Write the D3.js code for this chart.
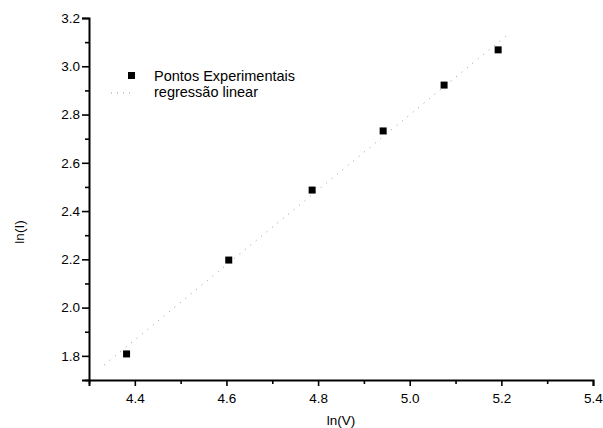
<!DOCTYPE html>
<html>
<head>
<meta charset="utf-8">
<script src="https://cdn.jsdelivr.net/npm/d3@7"></script>
<style>
  body { margin: 0; background: #fff; }
  text { font-family: "Liberation Sans", Arial, sans-serif; fill: #000; }
</style>
</head>
<body>
<svg id="chart" width="603" height="428"></svg>
<script>
// data
const lnV = [4.382, 4.605, 4.787, 4.942, 5.075, 5.193];
const lnI = [1.808, 2.197, 2.487, 2.732, 2.922, 3.068];
const fitX = [4.333, 5.213];
const fitY = [1.762, 3.130];
const xTicks = [4.4, 4.6, 4.8, 5.0, 5.2, 5.4];
const yTicks = [1.8, 2.0, 2.2, 2.4, 2.6, 2.8, 3.0, 3.2];
const legendLabels = ['Pontos Experimentais', 'regressão linear'];

const svg = d3.select('#chart');
const mLeft = 89, mRight = 593, mTop = 18, mBottom = 380;

const x = d3.scaleLinear().domain([4.3, 5.4]).range([mLeft, mRight]);
const y = d3.scaleLinear().domain([1.7, 3.2]).range([mBottom, mTop]);

// minor ticks
const xMinor = d3.range(4.3, 5.41, 0.1).map(d => +d.toFixed(2)).filter(d => !xTicks.includes(d));
const yMinor = d3.range(1.7, 3.21, 0.1).map(d => +d.toFixed(2)).filter(d => !yTicks.includes(d));

svg.append('g').attr('transform', `translate(0,${mBottom})`)
    .call(d3.axisBottom(x).tickValues(xTicks).tickFormat(d3.format('.1f')).tickSize(6).tickPadding(7));
svg.append('g').attr('transform', `translate(0,${mBottom})`)
    .call(d3.axisBottom(x).tickValues(xMinor).tickFormat('').tickSize(4))
    .select('.domain').remove();

svg.append('g').attr('transform', `translate(${mLeft},0)`)
    .call(d3.axisLeft(y).tickValues(yTicks).tickFormat(d3.format('.1f')).tickSize(7).tickPadding(2));
svg.append('g').attr('transform', `translate(${mLeft},0)`)
    .call(d3.axisLeft(y).tickValues(yMinor).tickFormat('').tickSize(4))
    .select('.domain').remove();

svg.selectAll('.domain').attr('stroke', '#000').attr('stroke-width', 2);
svg.selectAll('.tick line').attr('stroke', '#000').attr('stroke-width', 1.6);
svg.selectAll('.tick text').style('font-size', '13.5px').style('font-family', '"Liberation Sans", Arial, sans-serif');

// axis titles
svg.append('text')
    .attr('x', 341).attr('y', 425)
    .attr('text-anchor', 'middle')
    .style('font-size', '13.5px')
    .text('ln(V)');
svg.append('text')
    .attr('transform', 'translate(24,232) rotate(-90)')
    .attr('text-anchor', 'middle')
    .style('font-size', '13.5px')
    .text('ln(I)');

// regression line
svg.append('line')
    .attr('x1', x(fitX[0])).attr('y1', y(fitY[0]))
    .attr('x2', x(fitX[1])).attr('y2', y(fitY[1]))
    .attr('stroke', '#999')
    .attr('stroke-width', 1)
    .attr('stroke-dasharray', '1,6');

// points
const size = 7;
svg.selectAll('rect.pt')
    .data(lnV)
    .join('rect')
    .attr('class', 'pt')
    .attr('x', (d, i) => x(d) - size / 2)
    .attr('y', (d, i) => y(lnI[i]) - size / 2)
    .attr('width', size)
    .attr('height', size)
    .attr('fill', '#000');

// legend
const legend = svg.append('g');
legend.append('rect')
    .attr('x', 128).attr('y', 72).attr('width', 7).attr('height', 7)
    .attr('fill', '#000');
legend.append('line')
    .attr('x1', 111).attr('y1', 93).attr('x2', 131).attr('y2', 93)
    .attr('stroke', '#999').attr('stroke-dasharray', '1,5');
legend.selectAll('text')
    .data(legendLabels)
    .join('text')
    .attr('x', 154)
    .attr('y', (d, i) => 81 + i * 16)
    .style('font-size', '14.5px')
    .text(d => d);
</script>
</body>
</html>
